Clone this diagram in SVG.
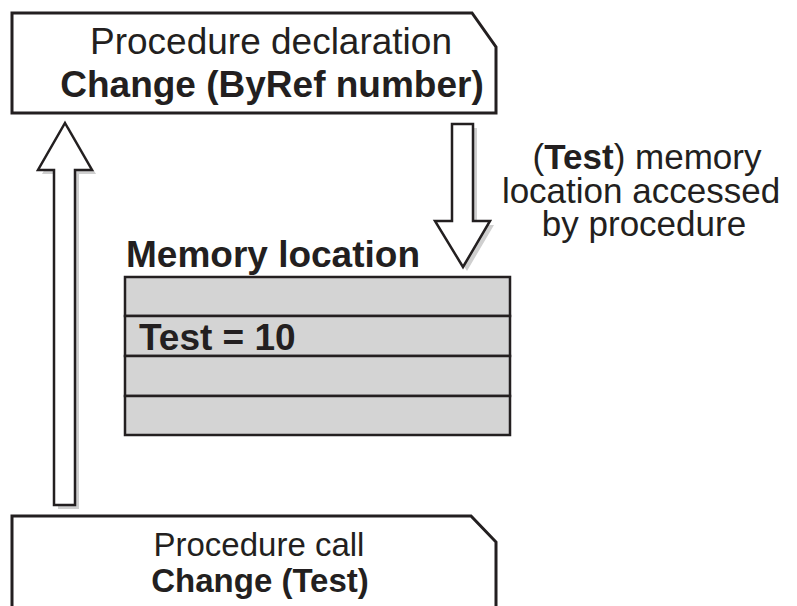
<svg xmlns="http://www.w3.org/2000/svg" width="797" height="606" viewBox="0 0 797 606">
<style>
.box{fill:#fff;stroke:#231f20;stroke-width:3}
.arrow{fill:#fff;stroke:#231f20;stroke-width:2.5;stroke-linejoin:miter}
.shadow{fill:#cfcfcf}
.cell{fill:#d4d4d4;stroke:#231f20;stroke-width:2.5}
text{font-family:"Liberation Sans",Arial,sans-serif;font-size:37px;fill:#231f20}
.b{font-weight:bold}
.c{text-anchor:middle}
.s{font-size:33px}
.r{font-size:35px}
</style>
<rect width="797" height="606" fill="#fff"/>
<g id="connectors">
  <g id="arrow-up">
    <polygon class="shadow" points="69,127 96,174 79,174 79,509 58,509 58,174 42,174"/>
    <polygon class="arrow" points="65,123 92,170 75,170 75,505 54,505 54,170 38,170"/>
  </g>
  <g id="arrow-down">
    <polygon class="shadow" points="456,128 477,128 477,225 494,225 467,271 439,225 456,225"/>
    <polygon class="arrow" points="452,124 473,124 473,221 490,221 463,267 435,221 452,221"/>
  </g>
</g>
<g id="declaration">
  <polygon class="box" points="12,13 472,13 496,47 496,113 12,113"/>
  <text class="c" x="271" y="54">Procedure declaration</text>
  <text class="c b" x="272" y="97">Change (ByRef number)</text>
</g>
<g id="call">
  <polygon class="box" points="12,516 471,516 496,542 496,612 12,612"/>
  <text class="c s" x="259" y="556">Procedure call</text>
  <text class="c s b" x="260" y="592">Change (Test)</text>
</g>
<g id="memory">
  <text class="b" x="126" y="267">Memory location</text>
  <rect class="cell" x="125" y="277" width="385" height="39"/>
  <rect class="cell" x="125" y="316" width="385" height="40"/>
  <rect class="cell" x="125" y="356" width="385" height="40"/>
  <rect class="cell" x="125" y="396" width="385" height="39"/>
  <text class="b" x="139" y="350">Test = 10</text>
</g>
<g id="label">
  <text class="c r" x="647" y="169">(<tspan class="b">Test</tspan>) memory</text>
  <text class="c r" x="641" y="203">location accessed</text>
  <text class="c r" x="644" y="236">by procedure</text>
</g>
</svg>
